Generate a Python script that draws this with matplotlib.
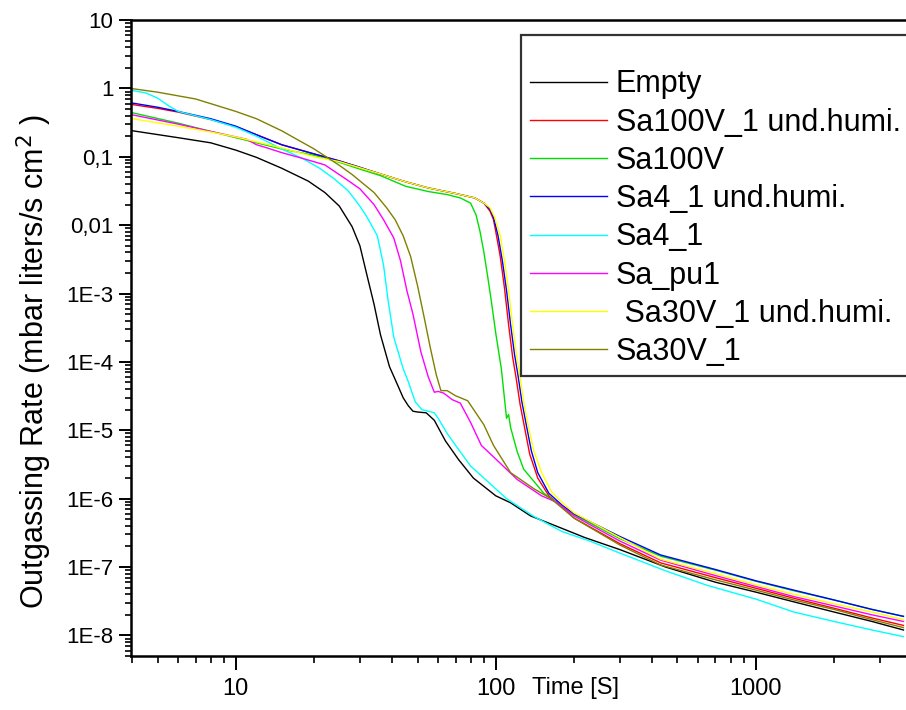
import matplotlib
matplotlib.use("Agg")
import matplotlib.pyplot as plt
from matplotlib.ticker import FixedLocator, FixedFormatter, LogLocator, NullFormatter

plt.rcParams['font.family'] = ['Liberation Sans', 'DejaVu Sans']

# --- data (time in s, rate in mbar l/s cm2) ---
t_empty = [4, 6, 8, 10, 12, 15, 19, 22, 25, 28, 30, 32, 34, 36, 39, 42, 44, 46, 48, 50, 54, 58,
           64, 72, 82, 100, 114, 136, 170, 220, 300, 450, 700, 1000, 1400, 2000, 2800, 3700]
r_empty = [0.24, 0.19, 0.16, 0.125, 0.098, 0.068, 0.044, 0.03, 0.019, 0.0095, 0.005, 0.0018,
           7e-4, 2.5e-4, 8.5e-5, 4.5e-5, 3e-5, 2.3e-5, 1.9e-5, 1.85e-5, 1.8e-5, 1.4e-5,
           7e-6, 3.7e-6, 2e-6, 1.1e-6, 8.7e-7, 5.6e-7, 4e-7, 2.7e-7, 1.8e-7, 1e-7, 6e-8,
           4.3e-8, 3.1e-8, 2.2e-8, 1.6e-8, 1.2e-8]

t_sa100v1h = [4, 5, 6, 8, 10, 12, 15, 20, 25, 30, 36, 45, 55, 70, 83, 90, 95, 98, 100, 104, 108,
              112, 116, 120, 124, 129, 135, 145, 160, 180, 200, 300, 431, 700, 1000, 1400, 2000,
              2800, 3700]
r_sa100v1h = [0.58, 0.51, 0.45, 0.35, 0.275, 0.21, 0.15, 0.11, 0.087, 0.07, 0.056, 0.043, 0.035,
              0.029, 0.025, 0.021, 0.016, 0.012, 8e-3, 3.5e-3, 1.2e-3, 3.5e-4, 1.2e-4, 5.5e-5,
              2.4e-5, 1.1e-5, 4.5e-6, 2e-6, 1.1e-6, 7.5e-7, 5.2e-7, 2.2e-7, 1.15e-7, 7e-8,
              4.9e-8, 3.5e-8, 2.5e-8, 1.8e-8, 1.4e-8]

t_sa100v = [4, 6, 8, 10, 12, 15, 20, 25, 30, 36, 45, 55, 65, 73, 80, 84, 87, 90, 93, 96, 100, 105,
            110, 112, 114, 121, 128, 153, 194, 300, 431, 700, 1000, 1400, 2000, 2800, 3700]
r_sa100v = [0.44, 0.31, 0.235, 0.19, 0.16, 0.13, 0.105, 0.083, 0.066, 0.053, 0.037, 0.031, 0.028,
            0.025, 0.021, 0.014, 8e-3, 4e-3, 1.8e-3, 8e-4, 2.6e-4, 8e-5, 1.5e-5, 1.7e-5, 1.1e-5,
            4.8e-6, 2.7e-6, 1.2e-6, 6.2e-7, 2.6e-7, 1.44e-7, 9e-8, 6.2e-8, 4.5e-8, 3.3e-8,
            2.4e-8, 1.9e-8]

t_sa41h = [4, 5, 6, 8, 10, 12, 15, 20, 25, 30, 36, 45, 55, 70, 83, 90, 95, 98, 102, 106, 110, 114,
           118, 122, 126, 131, 137, 145, 160, 180, 200, 300, 431, 700, 1000, 1400, 2000, 2800, 3700]
r_sa41h = [0.61, 0.53, 0.46, 0.36, 0.28, 0.21, 0.15, 0.11, 0.087, 0.07, 0.056, 0.043, 0.035,
           0.029, 0.025, 0.021, 0.017, 0.013, 7e-3, 3e-3, 1.1e-3, 3.5e-4, 1.3e-4, 6e-5, 2.6e-5,
           1.2e-5, 5e-6, 2.4e-6, 1.2e-6, 8e-7, 6e-7, 2.8e-7, 1.5e-7, 9.2e-8, 6.3e-8, 4.6e-8,
           3.3e-8, 2.4e-8, 1.9e-8]

t_sa41 = [4, 4.5, 5, 5.5, 6, 8, 10, 12, 15, 18, 21, 24, 27, 30, 32, 35, 37, 38.5, 40.5, 44, 46, 49,
          52, 55, 58, 60, 65, 71, 80, 90, 110, 140, 180, 230, 300, 450, 650, 1000, 1400, 2000,
          2800, 3700]
r_sa41 = [0.93, 0.86, 0.72, 0.56, 0.46, 0.35, 0.27, 0.2, 0.13, 0.095, 0.068, 0.047, 0.032, 0.019,
          0.013, 0.007, 2.6e-3, 8e-4, 2.3e-4, 8e-5, 5.2e-5, 2.6e-5, 2e-5, 1.9e-5, 1.8e-5, 1.5e-5,
          9e-6, 5.6e-6, 3e-6, 2e-6, 1e-6, 5.5e-7, 3.3e-7, 2.4e-7, 1.6e-7, 8.8e-8, 5.4e-8,
          3.4e-8, 2.2e-8, 1.6e-8, 1.2e-8, 9.6e-9]

t_sapu1 = [4, 6, 8, 10, 11, 12, 13, 15, 18, 22, 27, 30, 34, 37, 40.5, 43, 45.5, 48, 51.5, 55, 58,
           60, 63, 68, 73, 80, 88, 100, 121, 150, 172, 200, 300, 431, 700, 1000, 1400, 2000,
           2800, 3700]
r_sapu1 = [0.41, 0.3, 0.235, 0.195, 0.18, 0.15, 0.137, 0.115, 0.095, 0.076, 0.045, 0.034, 0.02,
           0.012, 6.5e-3, 3e-3, 1.1e-3, 5e-4, 1.4e-4, 6e-5, 3.6e-5, 3.7e-5, 3.5e-5, 2.8e-5,
           2.5e-5, 1.3e-5, 6e-6, 3.8e-6, 1.9e-6, 1.1e-6, 8.8e-7, 5.6e-7, 2.4e-7, 1.26e-7,
           7.5e-8, 5.2e-8, 3.7e-8, 2.7e-8, 2e-8, 1.6e-8]

t_sa30v1h = [4, 6, 8, 10, 12, 15, 20, 25, 30, 36, 45, 55, 70, 83, 90, 95, 99, 104, 108, 112, 116,
             120, 124, 128, 133, 140, 150, 165, 185, 200, 300, 431, 700, 1000, 1400, 2000,
             2800, 3700]
r_sa30v1h = [0.36, 0.28, 0.23, 0.195, 0.165, 0.135, 0.1, 0.085, 0.069, 0.056, 0.043, 0.035,
             0.029, 0.025, 0.021, 0.018, 0.013, 7e-3, 3e-3, 1.1e-3, 3.5e-4, 1.3e-4, 6e-5,
             2.6e-5, 1.2e-5, 5e-6, 2.4e-6, 1.2e-6, 8e-7, 6.2e-7, 2.7e-7, 1.3e-7, 8e-8, 5.5e-8,
             4e-8, 2.9e-8, 2.2e-8, 1.7e-8]

t_sa30v1 = [4, 5, 7, 10, 12, 15, 20, 25, 28, 31, 34, 38, 41, 44, 47, 50, 53, 56, 59, 61.5, 65,
            70, 78, 90, 98, 114, 140, 163, 200, 300, 431, 700, 1000, 1400, 2000, 2800, 3700]
r_sa30v1 = [0.99, 0.88, 0.7, 0.46, 0.36, 0.24, 0.13, 0.075, 0.055, 0.04, 0.03, 0.018, 0.012,
            7e-3, 3.5e-3, 1.3e-3, 4.5e-4, 1.6e-4, 6.5e-5, 3.8e-5, 3.8e-5, 3.2e-5, 2.7e-5,
            1.2e-5, 6e-6, 2.4e-6, 1.4e-6, 1e-6, 5.2e-7, 2.1e-7, 1.07e-7, 6.5e-8, 4.6e-8,
            3.3e-8, 2.4e-8, 1.7e-8, 1.3e-8]

labels = ['Empty', 'Sa100V_1 und.humi.', 'Sa100V', 'Sa4_1 und.humi.', 'Sa4_1', 'Sa_pu1',
          ' Sa30V_1 und.humi.', 'Sa30V_1']
colors = ['#000000', '#ff0000', '#00e000', '#0000ff', '#00ffff', '#ff00ff', '#ffff00', '#808000']
series = [(t_empty, r_empty), (t_sa100v1h, r_sa100v1h), (t_sa100v, r_sa100v),
          (t_sa41h, r_sa41h), (t_sa41, r_sa41), (t_sapu1, r_sapu1),
          (t_sa30v1h, r_sa30v1h), (t_sa30v1, r_sa30v1)]

y_ticks = [10, 1, 0.1, 0.01, 1e-3, 1e-4, 1e-5, 1e-6, 1e-7, 1e-8]
y_ticklabels = ['10', '1', '0,1', '0,01', '1E-3', '1E-4', '1E-5', '1E-6', '1E-7', '1E-8']
x_ticks = [10, 100, 1000]
x_ticklabels = ['10', '100', '1000']

fig = plt.figure(figsize=(9.06, 7.10), dpi=100)
ax = fig.add_axes([131 / 906, 54 / 710, 775 / 906, 636 / 710])

for (t, r), lab, col in zip(series, labels, colors):
    ax.plot(t, r, color=col, lw=1.0, label=lab)

ax.set_xscale('log')
ax.set_yscale('log')
ax.set_xlim(3.95, 3785)
ax.set_ylim(5e-9, 10)

ax.yaxis.set_major_locator(FixedLocator(y_ticks))
ax.yaxis.set_major_formatter(FixedFormatter(y_ticklabels))
ax.yaxis.set_minor_locator(LogLocator(base=10, subs=range(2, 10), numticks=30))
ax.yaxis.set_minor_formatter(NullFormatter())
ax.xaxis.set_major_locator(FixedLocator(x_ticks))
ax.xaxis.set_major_formatter(FixedFormatter(x_ticklabels))
ax.xaxis.set_minor_locator(LogLocator(base=10, subs=range(2, 10), numticks=30))
ax.xaxis.set_minor_formatter(NullFormatter())

ax.tick_params(axis='y', which='major', direction='out', length=8.6, width=1.4, pad=4, labelsize=16)
ax.tick_params(axis='y', which='minor', direction='out', length=4.3, width=1.2)
ax.tick_params(axis='x', which='major', direction='out', length=10, width=1.4, pad=6, labelsize=17)
ax.tick_params(axis='x', which='minor', direction='out', length=5, width=1.2)

for side in ['left', 'bottom', 'top']:
    ax.spines[side].set_linewidth(1.8)
ax.spines['right'].set_visible(False)

ax.set_ylabel('Outgassing Rate (mbar liters/s cm$^2$ )', fontsize=22)
ax.yaxis.set_label_coords(-0.099, 0.462)
ax.set_xlabel('Time [S]', fontsize=17, va='center')
ax.xaxis.set_label_coords(0.573, -0.0503)

# legend box runs off the right edge, as in the original
leg = ax.legend(loc='upper left', bbox_to_anchor=(521 / 906, 0, 420 / 906, 675 / 710),
                bbox_transform=fig.transFigure, mode='expand', borderaxespad=0, fontsize=22,
                title=' ', title_fontsize=14, frameon=True, fancybox=False,
                handlelength=2.5, handletextpad=0.3, labelspacing=0.27, borderpad=0.3)
leg.get_frame().set_edgecolor('black')
leg.get_frame().set_linewidth(1.6)

fig.savefig('out.png', dpi=100)
